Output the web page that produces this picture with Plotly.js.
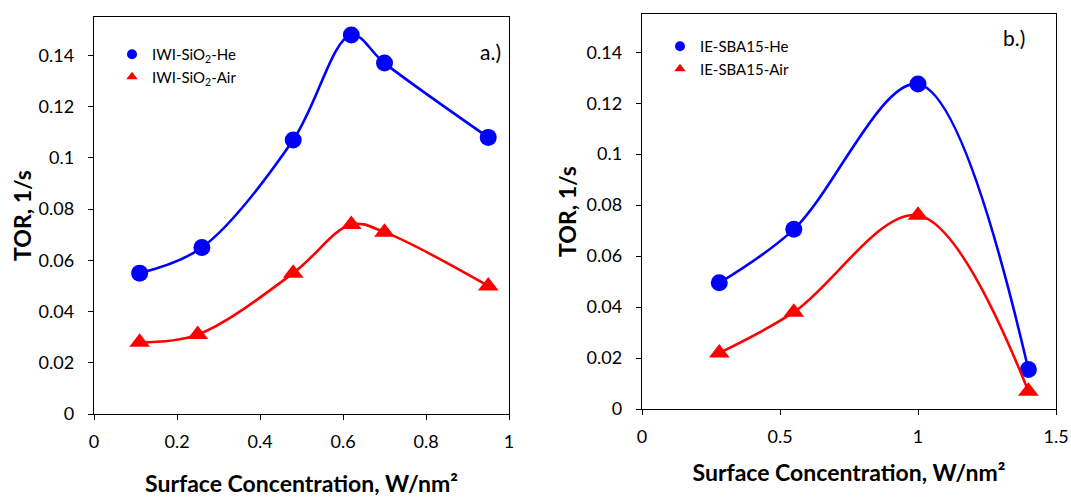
<!DOCTYPE html>
<html>
<head>
<meta charset="utf-8">
<script src="https://cdn.plot.ly/plotly-3.0.1.min.js"></script>
<style>html,body{margin:0;padding:0;background:#fff;}#chart{width:1071px;height:497px;}</style>
</head>
<body>
<div id="chart"></div>
<script>
// ---- Data ----
// Panel a.) IWI-SiO2
const aHeX  = [0.11, 0.26, 0.48, 0.62, 0.70, 0.95];
const aHeY  = [0.055, 0.065, 0.107, 0.148, 0.137, 0.108];
const aAirX = [0.11, 0.25, 0.48, 0.62, 0.70, 0.95];
const aAirY = [0.028, 0.031, 0.055, 0.074, 0.071, 0.050];
// Panel b.) IE-SBA15
const bHeX  = [0.28, 0.55, 1.00, 1.40];
const bHeY  = [0.0495, 0.0705, 0.1275, 0.0155];
const bAirX = [0.28, 0.55, 1.00, 1.40];
const bAirY = [0.022, 0.038, 0.076, 0.007];

const seriesNames = {
  aHe: 'IWI-SiO<sub>2</sub>-He', aAir: 'IWI-SiO<sub>2</sub>-Air',
  bHe: 'IE-SBA15-He', bAir: 'IE-SBA15-Air'
};
const panelLabels = ['a.)', 'b.)'];
const xTitle = 'Surface Concentration, W/nm²';
const yTitle = 'TOR, 1/s';

const BLUE = '#0000ff', RED = '#ff0000';
const FONT = 'Lato, "Open Sans", sans-serif';

function dataTrace(x, y, color, symbol, size, xa, ya) {
  return {
    x: x, y: y, xaxis: xa, yaxis: ya, type: 'scatter', mode: 'lines+markers',
    line: {color: color, width: 2.6, shape: 'spline', smoothing: 1},
    marker: {color: color, symbol: symbol, size: size},
    showlegend: false, hoverinfo: 'x+y'
  };
}
function legendTrace(name, color, symbol, xa, ya, legend) {
  return {
    x: [null], y: [null], xaxis: xa, yaxis: ya, type: 'scatter', mode: 'markers',
    name: name, marker: {color: color, symbol: symbol, size: 10},
    showlegend: true, legend: legend
  };
}

const traces = [
  dataTrace(aHeX, aHeY, BLUE, 'circle', 17, 'x', 'y'),
  dataTrace(aAirX, aAirY, RED, 'triangle-up', 18, 'x', 'y'),
  dataTrace(bHeX, bHeY, BLUE, 'circle', 17, 'x2', 'y2'),
  dataTrace(bAirX, bAirY, RED, 'triangle-up', 18, 'x2', 'y2'),
  legendTrace(seriesNames.aHe, BLUE, 'circle', 'x', 'y', 'legend'),
  legendTrace(seriesNames.aAir, RED, 'triangle-up', 'x', 'y', 'legend'),
  legendTrace(seriesNames.bHe, BLUE, 'circle', 'x2', 'y2', 'legend2'),
  legendTrace(seriesNames.bAir, RED, 'triangle-up', 'x2', 'y2', 'legend2')
];

const W = 1071, H = 497;
function axisCommon() {
  return {
    showline: true, linecolor: '#000', linewidth: 1.4, mirror: true,
    ticks: 'outside', ticklen: 5, tickwidth: 1.4, tickcolor: '#000',
    showgrid: false, zeroline: false,
    tickfont: {family: FONT, size: 18, color: '#000'},
    automargin: false
  };
}
const titleFont = {family: FONT, size: 23, color: '#000', weight: 'bold'};

const layout = {
  width: W, height: H,
  margin: {l: 0, r: 0, t: 0, b: 0},
  paper_bgcolor: '#fff', plot_bgcolor: '#fff',
  font: {family: FONT, color: '#000'},
  xaxis: Object.assign(axisCommon(), {
    domain: [94 / W, 509 / W], range: [0, 1], dtick: 0.2, tick0: 0, anchor: 'y',
    ticklabelstandoff: 6,
    title: {text: '<b>' + xTitle + '</b>', font: titleFont, standoff: 27}
  }),
  yaxis: Object.assign(axisCommon(), {
    domain: [(H - 414) / H, (H - 17) / H], range: [0, 0.155], dtick: 0.02, tick0: 0, anchor: 'x',
    ticklabelstandoff: 10,
    title: {text: '<b>' + yTitle + '</b>', font: titleFont, standoff: 0}
  }),
  xaxis2: Object.assign(axisCommon(), {
    domain: [642 / W, 1056 / W], range: [0, 1.5], dtick: 0.5, tick0: 0, anchor: 'y2',
    ticklabelstandoff: 6,
    title: {text: '<b>' + xTitle + '</b>', font: titleFont, standoff: 19}
  }),
  yaxis2: Object.assign(axisCommon(), {
    domain: [(H - 409) / H, (H - 14) / H], range: [0, 0.155], dtick: 0.02, tick0: 0, anchor: 'x2',
    ticklabelstandoff: 10,
    title: {text: '<b>' + yTitle + '</b>', font: titleFont, standoff: 3}
  }),
  legend: {
    x: 112 / W, y: 1 - 38 / H, xanchor: 'left', yanchor: 'top',
    bgcolor: 'rgba(0,0,0,0)', borderwidth: 0,
    font: {family: FONT, size: 15, color: '#000'}, itemclick: false
  },
  legend2: {
    x: 660 / W, y: 1 - 30 / H, xanchor: 'left', yanchor: 'top',
    bgcolor: 'rgba(0,0,0,0)', borderwidth: 0,
    font: {family: FONT, size: 15, color: '#000'}, itemclick: false
  },
  annotations: [
    {xref: 'paper', yref: 'paper', x: 503 / W, y: 1 - 51 / H, xanchor: 'right', yanchor: 'middle',
     text: panelLabels[0], showarrow: false, font: {family: FONT, size: 21, color: '#000'}},
    {xref: 'paper', yref: 'paper', x: 1027 / W, y: 1 - 37 / H, xanchor: 'right', yanchor: 'middle',
     text: panelLabels[1], showarrow: false, font: {family: FONT, size: 21, color: '#000'}}
  ]
};

Plotly.newPlot('chart', traces, layout, {displayModeBar: false});
</script>
</body>
</html>
